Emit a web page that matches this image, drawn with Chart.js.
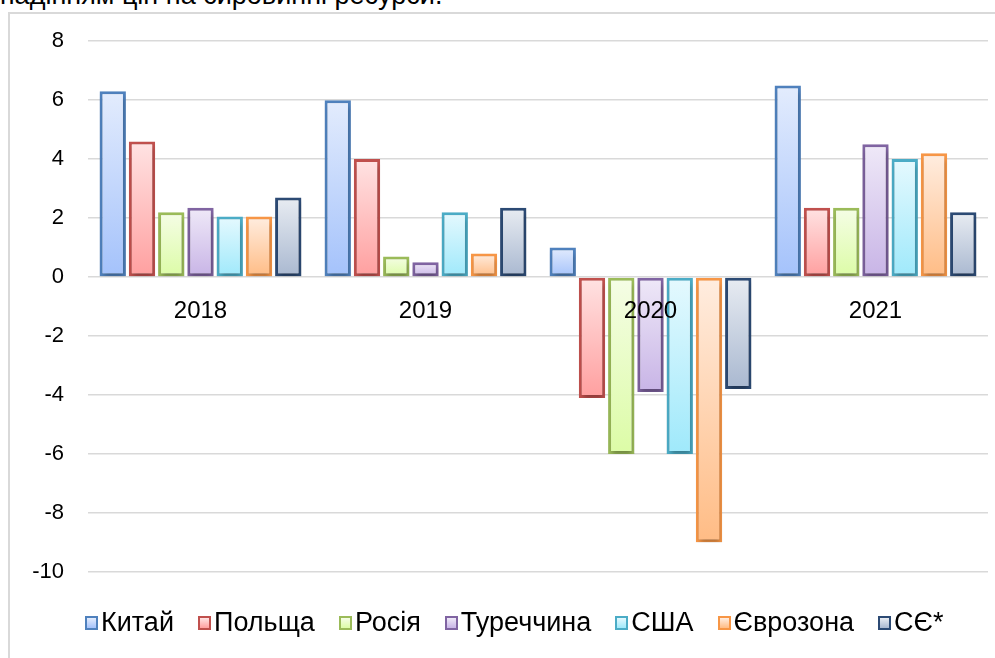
<!DOCTYPE html>
<html lang="uk">
<head>
<meta charset="utf-8">
<script src="https://cdn.jsdelivr.net/npm/chart.js@4.4.1/dist/chart.umd.min.js"></script>
<style>
  html, body { margin: 0; padding: 0; background: #fff; overflow: hidden; }
  body { width: 995px; height: 658px; position: relative; font-family: 'Liberation Sans', Arial, sans-serif; }
  #title { position: absolute; left: 0; top: -18px; font-size: 27px; line-height: 27px; white-space: nowrap; color: #000; }
  #frame { position: absolute; left: 8px; top: 12px; width: 1000px; height: 660px; background: #fff;
           border-left: 2px solid #d9d9d9; border-top: 2px solid #d9d9d9; }
  #wrap { position: absolute; left: 0; top: -10px; width: 985px; height: 605px; }
  #legend { position: absolute; left: 0; top: 593px; width: 985px; display: flex; justify-content: flex-start;
            padding-left: 75px; box-sizing: border-box; font-size: 27px; color: #000; }
  .item { display: flex; align-items: center; margin-right: 24px; white-space: nowrap; }
  .box { width: 9px; height: 10px; border: 2px solid; margin-right: 3px; }
</style>
</head>
<body>
<div id="title">падінням цін на сировинні ресурси.</div>
<div id="frame">
  <div id="wrap"><canvas id="chart"></canvas></div>
  <div id="legend"></div>
</div>
<script>
// Дані
const years = ['2018', '2019', '2020', '2021'];
const countries = ['Китай', 'Польща', 'Росія', 'Туреччина', 'США', 'Єврозона', 'СЄ*'];
const china   = [6.3, 6.0, 1.0, 6.5];
const poland  = [4.6, 4.0, -4.1, 2.35];
const russia  = [2.2, 0.7, -6.0, 2.35];
const turkey  = [2.35, 0.5, -3.9, 4.5];
const usa     = [2.05, 2.2, -6.0, 4.0];
const euro    = [2.05, 0.8, -9.0, 4.2];
const eu      = [2.7, 2.35, -3.8, 2.2];
const yTicks  = [8, 6, 4, 2, 0, -2, -4, -6, -8, -10];

const seriesValues = [china, poland, russia, turkey, usa, euro, eu];

// Кольори: рамка, світлий верх, насичений низ
const palette = [
    ['#4f81bd', '#e3ecfd', '#a4c2fb'],
    ['#c0504d', '#ffe3e3', '#ff9f9f'],
    ['#9bbb59', '#f5fde6', '#dcfca6'],
    ['#8064a2', '#efe9f8', '#c8b4e6'],
    ['#4bacc6', '#e5f9fe', '#9fe9fb'],
    ['#f79646', '#ffede0', '#ffbc85'],
    ['#2c4a74', '#e8ecf2', '#a9b8d0']
];

// Градієнт для кожного стовпчика окремо
function barFill(ctx, light, dark) {
    const chart = ctx.chart;
    if (!chart.chartArea || !chart.scales.y) return dark;
    const v = ctx.raw;
    const y = chart.scales.y;
    const top = y.getPixelForValue(Math.max(v, 0));
    const bottom = y.getPixelForValue(Math.min(v, 0));
    if (!isFinite(top) || !isFinite(bottom) || top === bottom) return dark;
    const g = chart.ctx.createLinearGradient(0, top, 0, bottom);
    g.addColorStop(0, light);
    g.addColorStop(1, dark);
    return g;
}

const datasets = countries.map((name, i) => ({
    label: name,
    data: seriesValues[i],
    borderColor: palette[i][0],
    backgroundColor: ctx => barFill(ctx, palette[i][1], palette[i][2]),
    borderWidth: 3,
    borderSkipped: false,
    barPercentage: 0.9,
    categoryPercentage: 0.91
}));

// Тінь під стовпчиками
const shadowPlugin = {
    id: 'shadow',
    beforeDatasetsDraw(chart) {
        const c = chart.ctx;
        c.save();
        c.shadowColor = 'rgba(0,0,0,0.28)';
        c.shadowBlur = 5;
        c.shadowOffsetX = 1;
        c.shadowOffsetY = 4;
    },
    afterDatasetsDraw(chart) {
        chart.ctx.restore();
    }
};

const tickFont = { family: "'Liberation Sans', Arial, sans-serif", size: 22 };

new Chart(document.getElementById('chart'), {
    type: 'bar',
    data: { labels: years, datasets: datasets },
    plugins: [shadowPlugin],
    options: {
        responsive: true,
        maintainAspectRatio: false,
        animation: false,
        layout: { padding: { top: 8, right: 7, bottom: 7, left: 0 } },
        plugins: {
            legend: { display: false },
            tooltip: { enabled: false }
        },
        scales: {
            x: {
                position: { y: 0 },
                grid: { display: false, drawTicks: false },
                border: { display: false },
                ticks: { color: '#000', font: { ...tickFont, size: 24 }, padding: 20, z: 1 }
            },
            y: {
                min: -10,
                max: 8,
                afterFit: axis => { axis.width = 78; },
                afterBuildTicks: axis => { axis.ticks = yTicks.map(v => ({ value: v })); },
                grid: { color: '#d9d9d9', lineWidth: 1.5, drawTicks: false },
                border: { display: false },
                ticks: { color: '#000', font: tickFont, padding: 24 }
            }
        }
    }
});

// Легенда
const legend = document.getElementById('legend');
countries.forEach((name, i) => {
    const item = document.createElement('div');
    item.className = 'item';
    const box = document.createElement('span');
    box.className = 'box';
    box.style.borderColor = palette[i][0];
    box.style.background = `linear-gradient(${palette[i][1]}, ${palette[i][2]})`;
    const label = document.createElement('span');
    label.textContent = name;
    item.appendChild(box);
    item.appendChild(label);
    legend.appendChild(item);
});
</script>
</body>
</html>
